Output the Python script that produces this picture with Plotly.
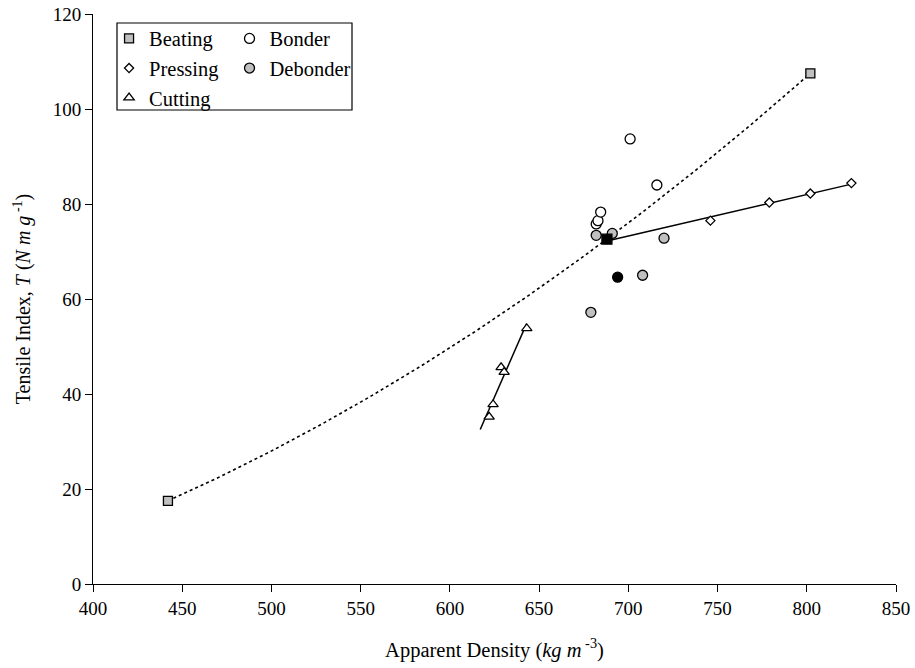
import numpy as np
import plotly.graph_objects as go

# ---- data ----
beating_x = [442, 802]
beating_y = [17.5, 107.5]

control_x = [688]          # black square (shared control point)
control_y = [72.6]

pressing_x = [746, 779, 802, 825]
pressing_y = [76.5, 80.3, 82.2, 84.4]

cutting_x = [622, 624.2, 628.7, 630.4, 643.1]
cutting_y = [35.2, 37.8, 45.6, 44.6, 53.8]

bonder_x = [682, 683, 684.5, 701, 716]
bonder_y = [75.8, 76.5, 78.3, 93.7, 84.0]

debonder_x = [682, 691, 708, 720, 679]
debonder_y = [73.4, 73.8, 65.0, 72.8, 57.2]

black_circle_x = [694]
black_circle_y = [64.6]

cutting_trend_range = [617, 643]

x_ticks = [400, 450, 500, 550, 600, 650, 700, 750, 800, 850]
y_ticks = [0, 20, 40, 60, 80, 100, 120]

FONT = "Liberation Serif, Times New Roman, serif"
GRAY = "#c0c0c0"

fig = go.Figure()

# ---- trend lines (fitted from the data) ----
bx = np.array(beating_x[:1] + control_x + beating_x[1:], dtype=float)
by = np.array(beating_y[:1] + control_y + beating_y[1:], dtype=float)
bc = np.polyfit(bx, by, 2)
bxs = np.linspace(bx.min(), bx.max(), 200)
fig.add_trace(go.Scatter(x=bxs, y=np.polyval(bc, bxs), mode="lines",
                         line=dict(color="black", width=1.6, dash="dot"),
                         showlegend=False, hoverinfo="skip"))

px_ = np.array(control_x + pressing_x, dtype=float)
py_ = np.array(control_y + pressing_y, dtype=float)
pc = np.polyfit(px_, py_, 1)
pxs = np.array([px_.min(), px_.max()])
fig.add_trace(go.Scatter(x=pxs, y=np.polyval(pc, pxs), mode="lines",
                         line=dict(color="black", width=1.5),
                         showlegend=False, hoverinfo="skip"))

cc = np.polyfit(np.array(cutting_x), np.array(cutting_y), 1)
cxs = np.array(cutting_trend_range, dtype=float)
fig.add_trace(go.Scatter(x=cxs, y=np.polyval(cc, cxs), mode="lines",
                         line=dict(color="black", width=1.5),
                         showlegend=False, hoverinfo="skip"))

# ---- markers ----
def mk(symbol, fill, size):
    return dict(symbol=symbol, color=fill, size=size, line=dict(color="black", width=1.3))

fig.add_trace(go.Scatter(x=beating_x, y=beating_y, mode="markers", name="Beating",
                         marker=mk("square", GRAY, 9), legend="legend"))
fig.add_trace(go.Scatter(x=pressing_x, y=pressing_y, mode="markers", name="Pressing",
                         marker=mk("diamond", "white", 7), legend="legend"))
fig.add_trace(go.Scatter(x=cutting_x, y=cutting_y, mode="markers", name="Cutting",
                         marker=mk("triangle-up", "white", 9), legend="legend"))
fig.add_trace(go.Scatter(x=bonder_x, y=bonder_y, mode="markers", name="Bonder",
                         marker=mk("circle", "white", 10), legend="legend2"))
fig.add_trace(go.Scatter(x=debonder_x, y=debonder_y, mode="markers", name="Debonder",
                         marker=mk("circle", GRAY, 10), legend="legend2"))
fig.add_trace(go.Scatter(x=black_circle_x, y=black_circle_y, mode="markers",
                         marker=mk("circle", "black", 10), showlegend=False))
fig.add_trace(go.Scatter(x=control_x, y=control_y, mode="markers",
                         marker=mk("square", "black", 10), showlegend=False))

axis_common = dict(showgrid=False, zeroline=False, showline=True, linecolor="black",
                   linewidth=1, ticks="outside", ticklen=7, tickcolor="black",
                   tickwidth=1, automargin=False, ticklabeloverflow="allow",
                   tickfont=dict(family=FONT, size=19, color="black"))

fig.update_layout(
    width=915, height=668,
    margin=dict(l=93, r=19, t=14, b=84, autoexpand=False),
    paper_bgcolor="white", plot_bgcolor="white",
    font=dict(family=FONT, size=19, color="black"),
    xaxis=dict(range=[400, 850], tickvals=x_ticks, **axis_common,
               title=dict(text="Apparent Density (<i>kg m</i><sup> -3</sup>)",
                          font=dict(family=FONT, size=20.5), standoff=24)),
    yaxis=dict(range=[0, 120], tickvals=y_ticks, **axis_common,
               title=dict(text="Tensile Index, <i>T</i> (<i>N m g</i><sup> -1</sup>)",
                          font=dict(family=FONT, size=20), standoff=16)),
    legend=dict(x=0.020, y=0.992, xanchor="left", yanchor="top",
                bgcolor="rgba(0,0,0,0)", borderwidth=0,
                font=dict(family=FONT, size=20.5, color="black"),
                itemsizing="trace", tracegroupgap=0),
    legend2=dict(x=0.170, y=0.992, xanchor="left", yanchor="top",
                 bgcolor="rgba(0,0,0,0)", borderwidth=0,
                 font=dict(family=FONT, size=20.5, color="black"),
                 itemsizing="trace", tracegroupgap=0),
    shapes=[dict(type="rect", xref="paper", yref="paper",
                 x0=(117 - 93) / 803, x1=(352 - 93) / 803,
                 y0=(584 - 110) / 570, y1=(584 - 23) / 570,
                 line=dict(color="black", width=1.2), fillcolor="rgba(0,0,0,0)")],
)

# remove the default 8px page margin so the figure sits at the window's corner
fig.write_html("out.html", config={"displayModeBar": False},
               post_script="document.body.style.margin='0';")
